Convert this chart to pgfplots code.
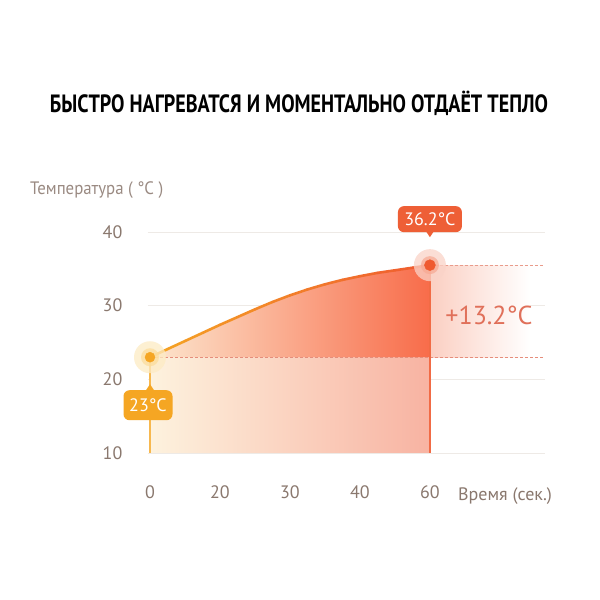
\documentclass[border=0pt]{standalone}
\usepackage{fontspec}
\setmainfont{PT Sans}
\usepackage{pgfplots}
\pgfplotsset{compat=1.18}
\definecolor{orangeA}{HTML}{F5A623}
\definecolor{redA}{HTML}{EF5A30}
\definecolor{redB}{HTML}{EE5F36}
\definecolor{gridc}{HTML}{EEEAE6}
\definecolor{tickc}{HTML}{8A786E}
\definecolor{labc}{HTML}{9A8A82}
\definecolor{plusc}{HTML}{E0705A}
\definecolor{creamL}{HTML}{FDF2DE}
\definecolor{salmonR}{HTML}{F8B3A2}
\definecolor{peachL}{HTML}{FCE6CE}
\definecolor{deepR}{HTML}{F86C4A}
\definecolor{bandL}{HTML}{FBCFC2}
\definecolor{haloO}{HTML}{FDEBC4}
\definecolor{haloO2}{HTML}{FCDC98}
\definecolor{haloR}{HTML}{FAD3C8}
\definecolor{haloR2}{HTML}{F7A892}
\begin{document}
\begin{tikzpicture}
\useasboundingbox (0,0) rectangle (600pt,600pt);
\fill[white] (0,0) rectangle (600pt,600pt);
\begin{axis}[
  at={(147.9pt,147pt)}, anchor=south west,
  scale only axis, width=397pt, height=221pt,
  xmin=-0.03, xmax=5.643, ymin=10, ymax=40,
  axis line style={draw=none},
  ytick={10,20,30,40},
  xtick={0,1,2,3,4}, xticklabels={0,20,30,40,60},
  major tick length=0pt,
  ymajorgrids, grid style={color=gridc, line width=0.8pt},
  tick label style={font=\fontsize{18}{20}\selectfont, text=tickc},
  yticklabel style={xshift=-22pt},
  xticklabel style={yshift=-29pt},
  /pgf/number format/assume math mode=true,
  clip=false,
  colormap={warm}{color=(orangeA) color=(redA)},
]
% light area under the curve down to 10
\addplot[draw=none, left color=creamL, right color=salmonR] coordinates {
(0,23) (0.25,24.1) (0.5,25.2) (0.75,26.3) (1,27.4) (1.25,28.45) (1.5,29.5) (1.75,30.5) (2,31.4) (2.25,32.2) (2.5,32.9) (2.75,33.5) (3,34.0) (3.25,34.45) (3.5,34.8) (3.75,35.15) (4,35.5) (4,10) (0,10)};
% stronger area between 23 and the curve
\addplot[draw=none, left color=peachL, right color=deepR] coordinates {
(0,23) (0.25,24.1) (0.5,25.2) (0.75,26.3) (1,27.4) (1.25,28.45) (1.5,29.5) (1.75,30.5) (2,31.4) (2.25,32.2) (2.5,32.9) (2.75,33.5) (3,34.0) (3.25,34.45) (3.5,34.8) (3.75,35.15) (4,35.5) (4,23) (0,23)};
% band to the right
\addplot[draw=none, left color=bandL, right color=white] coordinates {(4,23) (4,35.5) (5.43,35.5) (5.43,23)};
% dashed reference lines
\addplot[draw=plusc!80, dash pattern=on 3pt off 2pt, line width=1pt] coordinates {(0,23) (5.643,23)};
\addplot[draw=plusc!70, dash pattern=on 3pt off 2pt, line width=1pt] coordinates {(4,35.5) (5.643,35.5)};
% vertical lines
\addplot[draw=orangeA!80, line width=1.2pt] coordinates {(0,10) (0,23)};
\addplot[draw=redA!90, line width=1.2pt] coordinates {(4,10) (4,35.5)};
% curve
\addplot[mesh, point meta=x, line width=2.6pt, line cap=round] coordinates {
(0,23) (0.25,24.1) (0.5,25.2) (0.75,26.3) (1,27.4) (1.25,28.45) (1.5,29.5) (1.75,30.5) (2,31.4) (2.25,32.2) (2.5,32.9) (2.75,33.5) (3,34.0) (3.25,34.45) (3.5,34.8) (3.75,35.15) (4,35.5)};
% halos and points
\addplot[only marks, color=haloO, mark=*, mark size=16pt, mark options={fill=haloO, draw=haloO, draw opacity=0}, fill opacity=0.75] coordinates {(0,23)};
\addplot[only marks, color=haloO2, mark=*, mark size=9pt, mark options={fill=haloO2, draw=haloO2, draw opacity=0}, fill opacity=0.7] coordinates {(0,23)};
\addplot[only marks, color=orangeA, mark=*, mark size=5pt, mark options={fill=orangeA, draw=orangeA}] coordinates {(0,23)};
\addplot[only marks, color=haloR, mark=*, mark size=16pt, mark options={fill=haloR, draw=haloR, draw opacity=0}, fill opacity=0.75] coordinates {(4,35.5)};
\addplot[only marks, color=haloR2, mark=*, mark size=9pt, mark options={fill=haloR2, draw=haloR2, draw opacity=0}, fill opacity=0.7] coordinates {(4,35.5)};
\addplot[only marks, color=redA, mark=*, mark size=5.5pt, mark options={fill=redA, draw=redA}] coordinates {(4,35.5)};
% label boxes
\fill[redB, shift={(axis cs:4,35.5)}] (-4pt,34pt) -- (4pt,34pt) -- (0pt,28pt) -- cycle;
\node[fill=redB, text=white, rounded corners=6pt, minimum width=64pt, minimum height=26pt, inner sep=2pt, font=\fontsize{18}{20}\selectfont] at (axis cs:4,35.5) [yshift=46pt] {36.2°C};
\fill[orangeA, shift={(axis cs:0,23)}] (-4pt,-33pt) -- (4pt,-33pt) -- (0pt,-27pt) -- cycle;
\node[fill=orangeA, text=white, rounded corners=6pt, minimum width=49pt, minimum height=30pt, inner sep=2pt, font=\fontsize{18}{20}\selectfont] at (axis cs:0,23) [yshift=-48pt, xshift=-2pt] {23°C};
\end{axis}
\node[font=\fontsize{25}{27}\selectfont\bfseries, text=black] at (299pt,496.5pt) {\resizebox{498pt}{\height}{БЫСТРО НАГРЕВАТСЯ И МОМЕНТАЛЬНО ОТДАЁТ ТЕПЛО}};
\node[anchor=west, inner sep=0pt, text=labc, font=\fontsize{18}{20}\selectfont] at (30pt,410pt) {\resizebox{133pt}{\height}{Температура ( °C )}};
\node[anchor=west, inner sep=0pt, text=tickc, font=\fontsize{18}{20}\selectfont] at (458pt,104pt) {Время (сек.)};
\node[text=plusc, font=\fontsize{26}{28}\selectfont] at (489pt,285pt) {+13.2°C};
\end{tikzpicture}
\end{document}
